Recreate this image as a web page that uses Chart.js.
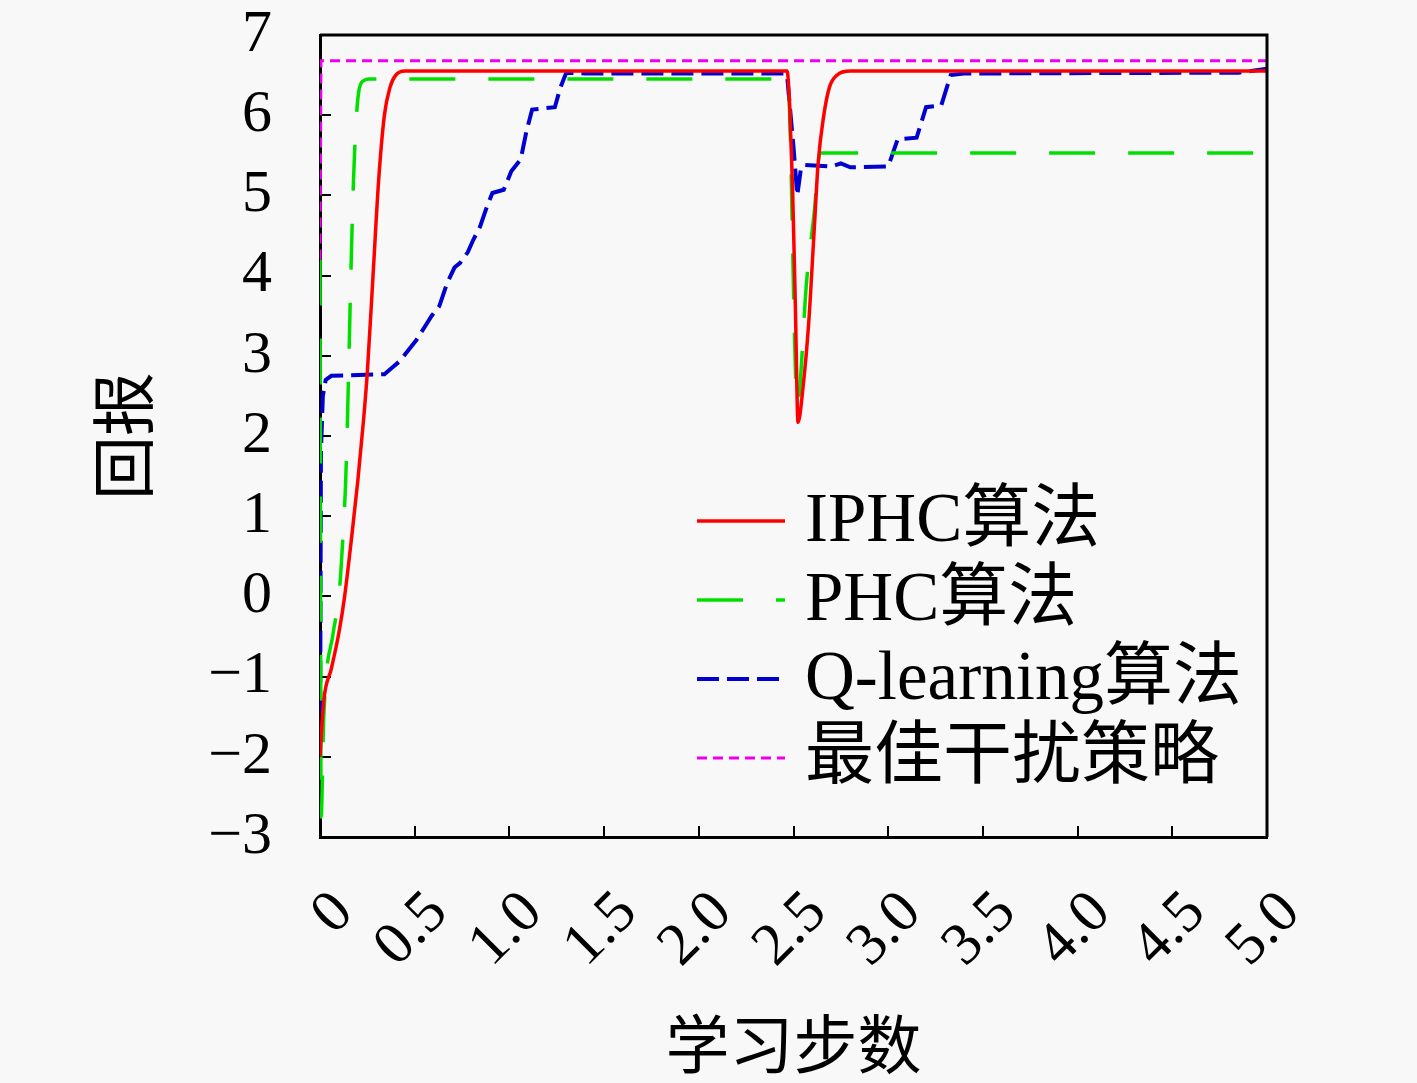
<!DOCTYPE html>
<html>
<head>
<meta charset="utf-8">
<script src="https://cdn.jsdelivr.net/npm/chart.js@4.4.0/dist/chart.umd.min.js"></script>
<style>
  html, body { margin: 0; padding: 0; background: #f8f8f8; }
  canvas { display: block; }
</style>
</head>
<body>
<canvas id="rewardChart" width="1417" height="1083"></canvas>
<script>
// Series (x = 学习步数, y = 回报)
const iphcX = [0, 0.02, 0.06, 0.10, 0.13, 0.17, 0.20, 0.23, 0.25, 0.28, 0.31, 0.34, 0.37, 0.40, 0.45, 2.466, 2.48, 2.495, 2.51, 2.524, 2.55, 2.58, 2.61, 2.63, 2.66, 2.69, 2.73, 2.80, 5.0];
const iphcY = [-2.0, -1.3, -0.9, -0.45, 0.0, 0.8, 1.45, 2.2, 2.8, 4.0, 5.2, 6.0, 6.35, 6.5, 6.55, 6.55, 6.1, 5.1, 3.6, 2.17, 2.6, 3.4, 4.6, 5.4, 6.0, 6.35, 6.5, 6.55, 6.55];

const phcX = [0, 0.006, 0.02, 0.07, 0.10, 0.12, 0.135, 0.145, 0.155, 0.165, 0.177, 0.19, 0.205, 0.23, 0.26, 2.47, 2.52, 2.57, 2.61, 2.64, 5.0];
const phcY = [4.2, -2.75, -1.5, -0.45, 0.0, 0.7, 1.4, 2.2, 3.2, 4.2, 5.2, 5.9, 6.3, 6.43, 6.45, 6.45, 2.4, 3.95, 4.8, 5.53, 5.53];

const qlX = [0, 0.005, 0.015, 0.03, 0.06, 0.34, 0.38, 0.42, 0.46, 0.51, 0.55, 0.59, 0.63, 0.67, 0.71, 0.74, 0.78, 0.81, 0.845, 0.88, 0.91, 0.97, 1.01, 1.06, 1.09, 1.12, 1.24, 1.27, 1.30, 1.40, 2.45, 2.466, 2.50, 2.52, 2.54, 2.56, 2.70, 2.75, 2.80, 3.00, 3.05, 3.15, 3.20, 3.28, 3.33, 3.40, 4.85, 5.0];
const qlY = [-2.2, 1.8, 2.5, 2.7, 2.75, 2.77, 2.85, 2.93, 3.05, 3.2, 3.35, 3.5, 3.62, 3.9, 4.1, 4.16, 4.29, 4.45, 4.61, 4.85, 5.03, 5.07, 5.3, 5.45, 5.8, 6.07, 6.1, 6.35, 6.53, 6.52, 6.52, 6.5, 5.6, 5.0, 5.35, 5.38, 5.36, 5.4, 5.35, 5.36, 5.7, 5.72, 6.1, 6.12, 6.5, 6.52, 6.53, 6.58];

const optX = [0, 0.005, 5.0];
const optY = [4.2, 6.68, 6.68];

const xTickLabels = ['0', '0.5', '1.0', '1.5', '2.0', '2.5', '3.0', '3.5', '4.0', '4.5', '5.0'];
const seriesNames = ['IPHC算法', 'PHC算法', 'Q-learning算法', '最佳干扰策略'];

function toPoints(xs, ys) {
    return xs.map((x, i) => ({ x: x, y: ys[i] }));
}

const FONT = "'Liberation Serif', 'Noto Sans CJK SC', serif";

// top/right frame plus the legend in the lower right of the plot
const framePlugin = {
    id: 'frame',
    afterDraw(chart) {
        const { ctx, chartArea } = chart;
        ctx.save();
        ctx.strokeStyle = '#000';
        ctx.lineWidth = 3;
        ctx.beginPath();
        ctx.moveTo(chartArea.left, chartArea.top);
        ctx.lineTo(chartArea.right, chartArea.top);
        ctx.lineTo(chartArea.right, chartArea.bottom);
        ctx.stroke();

        const x0 = chartArea.left + 377;
        const x1 = chartArea.left + 465;
        chart.data.datasets.forEach((ds, i) => {
            const y = chartArea.top + 486 + i * 79;
            ctx.strokeStyle = ds.borderColor;
            ctx.lineWidth = ds.borderWidth;
            ctx.setLineDash(ds.borderDash || []);
            ctx.beginPath();
            ctx.moveTo(x0, y);
            ctx.lineTo(x1, y);
            ctx.stroke();
            ctx.setLineDash([]);
            ctx.fillStyle = '#000';
            ctx.font = '69px ' + FONT;
            ctx.textBaseline = 'middle';
            ctx.textAlign = 'left';
            ctx.fillText(ds.label, x1 + 20, y + 2);
        });
        ctx.restore();
    }
};

const ctx = document.getElementById('rewardChart').getContext('2d');

const rewardChart = new Chart(ctx, {
    type: 'line',
    data: {
        datasets: [{
            label: seriesNames[0],
            data: toPoints(iphcX, iphcY),
            borderColor: '#ff0000',
            borderWidth: 3.5,
            cubicInterpolationMode: 'monotone'
        }, {
            label: seriesNames[1],
            data: toPoints(phcX, phcY),
            borderColor: '#00e000',
            borderWidth: 3.5,
            borderDash: [46, 33],
            cubicInterpolationMode: 'monotone'
        }, {
            label: seriesNames[2],
            data: toPoints(qlX, qlY),
            borderColor: '#0000d0',
            borderWidth: 4,
            borderDash: [22, 8]
        }, {
            label: seriesNames[3],
            data: toPoints(optX, optY),
            borderColor: '#ee00ee',
            borderWidth: 3,
            borderDash: [10, 6]
        }]
    },
    options: {
        responsive: false,
        devicePixelRatio: 1,
        animation: false,
        elements: { point: { radius: 0 } },
        layout: { padding: { top: 35, right: 150, left: 0, bottom: 0 } },
        scales: {
            x: {
                type: 'linear',
                min: 0, max: 5,
                afterFit: scale => {
                    scale.height = 246;
                    scale.paddingLeft = 0; scale.paddingRight = 0;
                    scale.paddingTop = 0; scale.paddingBottom = 0;
                },
                grid: { drawOnChartArea: false, tickLength: -11, color: '#000', lineWidth: 2 },
                border: { display: true, color: '#000', width: 3 },
                ticks: {
                    stepSize: 0.5,
                    autoSkip: false,
                    minRotation: 45, maxRotation: 45,
                    padding: 52,
                    labelOffset: 24,
                    color: '#000',
                    font: { family: FONT, size: 60 },
                    callback: (value, index) => xTickLabels[index]
                },
                title: {
                    display: true,
                    text: '学习步数',
                    color: '#000',
                    font: { family: FONT, size: 64, lineHeight: 1 },
                    padding: { top: 0, bottom: 0 }
                }
            },
            y: {
                min: -3, max: 7,
                afterFit: scale => {
                    scale.width = 320;
                    scale.paddingLeft = 0; scale.paddingRight = 0;
                    scale.paddingTop = 0; scale.paddingBottom = 0;
                },
                grid: { drawOnChartArea: false, tickLength: -11, color: '#000', lineWidth: 2 },
                border: { display: true, color: '#000', width: 3 },
                ticks: {
                    stepSize: 1,
                    autoSkip: false,
                    padding: 59,
                    color: '#000',
                    font: { family: FONT, size: 60 },
                    callback: value => value < 0 ? '\u2212' + Math.abs(value) : String(value)
                },
                title: {
                    display: true,
                    text: '回报',
                    color: '#000',
                    font: { family: FONT, size: 64, lineHeight: 1 },
                    padding: { top: 98, bottom: 0 }
                }
            }
        },
        plugins: {
            legend: { display: false },
            tooltip: { enabled: false }
        }
    },
    plugins: [framePlugin]
});
</script>
</body>
</html>
